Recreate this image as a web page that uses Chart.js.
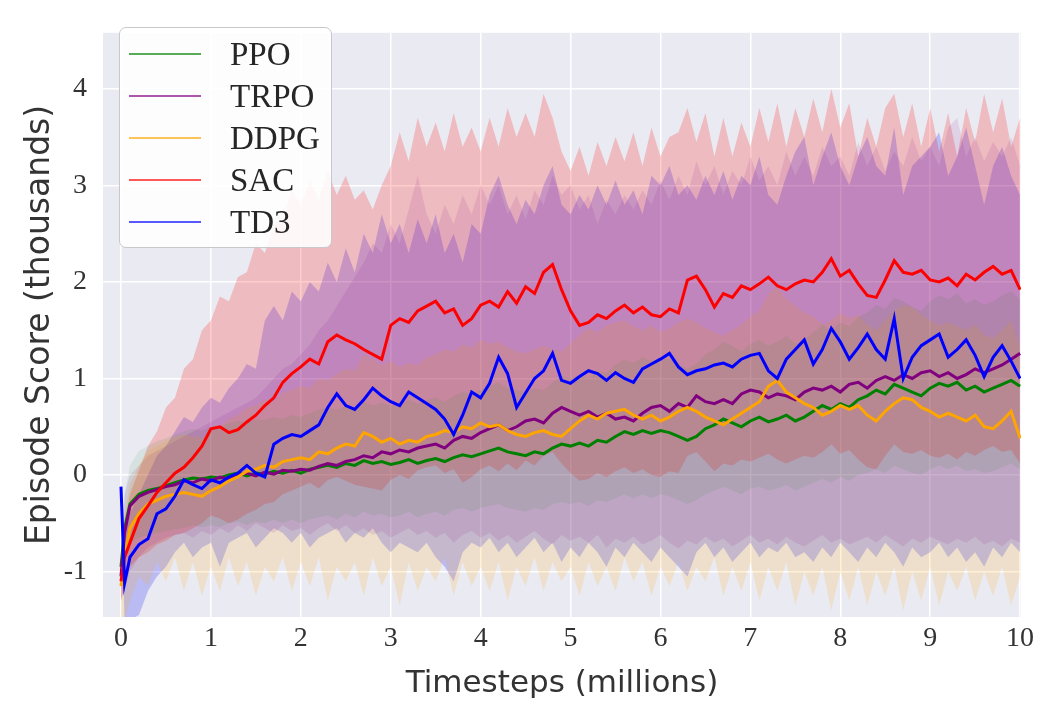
<!DOCTYPE html>
<html>
<head>
<meta charset="utf-8">
<title>Episode score vs timesteps</title>
<script src="https://cdn.jsdelivr.net/npm/chart.js@4/dist/chart.umd.min.js"></script>
<style>
  html, body { margin: 0; padding: 0; background: #ffffff; }
  #wrap { position: relative; width: 1043px; height: 704px; }
  #legend {
    position: absolute; left: 119px; top: 27px; width: 211px; height: 219px;
    background: rgba(255,255,255,0.88); border: 1.5px solid #c8c8cc; border-radius: 7px;
    font-family: "Liberation Serif", "DejaVu Serif", serif; font-size: 33px; color: #262626;
  }
  #legend .row { position: absolute; left: 0; height: 40px; width: 100%; }
  #legend .swatch { position: absolute; left: 9px; top: 19px; width: 72px; height: 2px; opacity: 0.65; }
  #legend .label { position: absolute; left: 110px; top: 0; line-height: 40px; }
</style>
</head>
<body>
<div id="wrap">
  <canvas id="chart" width="1043" height="704"></canvas>
  <div id="legend"></div>
</div>
<script>
// timesteps (millions)
const xs = [0, 0.04,
  0.1, 0.2, 0.3, 0.4, 0.5, 0.6, 0.7, 0.8, 0.9, 1.0,
  1.1, 1.2, 1.3, 1.4, 1.5, 1.6, 1.7, 1.8, 1.9, 2.0,
  2.1, 2.2, 2.3, 2.4, 2.5, 2.6, 2.7, 2.8, 2.9, 3.0,
  3.1, 3.2, 3.3, 3.4, 3.5, 3.6, 3.7, 3.8, 3.9, 4.0,
  4.1, 4.2, 4.3, 4.4, 4.5, 4.6, 4.7, 4.8, 4.9, 5.0,
  5.1, 5.2, 5.3, 5.4, 5.5, 5.6, 5.7, 5.8, 5.9, 6.0,
  6.1, 6.2, 6.3, 6.4, 6.5, 6.6, 6.7, 6.8, 6.9, 7.0,
  7.1, 7.2, 7.3, 7.4, 7.5, 7.6, 7.7, 7.8, 7.9, 8.0,
  8.1, 8.2, 8.3, 8.4, 8.5, 8.6, 8.7, 8.8, 8.9, 9.0,
  9.1, 9.2, 9.3, 9.4, 9.5, 9.6, 9.7, 9.8, 9.9, 10.0];

const algorithms = ['PPO', 'TRPO', 'DDPG', 'SAC', 'TD3'];
const colors = ['#008000', '#800080', '#ffa500', '#ff0000', '#0000ff'];
const bandAlpha = [0.08, 0.1, 0.16, 0.2, 0.2];

const xTicks = [0, 1, 2, 3, 4, 5, 6, 7, 8, 9, 10];
const yTicks = [-1, 0, 1, 2, 3, 4];

// mean episode score (thousands)
const ppoMean = [-0.95, -0.55,
  -0.30, -0.20, -0.16, -0.14, -0.11, -0.08, -0.05, -0.03, -0.04, -0.02,
  -0.03, 0.00, 0.02, -0.01, 0.02, 0.01, 0.04, 0.02, 0.05, 0.02,
  0.06, 0.08, 0.10, 0.08, 0.12, 0.10, 0.15, 0.12, 0.14, 0.11,
  0.13, 0.16, 0.12, 0.15, 0.17, 0.14, 0.18, 0.21, 0.19, 0.22,
  0.25, 0.28, 0.24, 0.22, 0.20, 0.24, 0.22, 0.28, 0.32, 0.30,
  0.33, 0.30, 0.36, 0.34, 0.40, 0.45, 0.42, 0.46, 0.43, 0.46,
  0.44, 0.40, 0.36, 0.40, 0.48, 0.52, 0.58, 0.54, 0.50, 0.56,
  0.60, 0.55, 0.58, 0.62, 0.56, 0.60, 0.66, 0.72, 0.68, 0.74,
  0.70, 0.78, 0.82, 0.88, 0.84, 0.94, 0.90, 0.86, 0.82, 0.90,
  0.95, 0.92, 0.96, 0.88, 0.92, 0.86, 0.90, 0.94, 0.98, 0.92];

const trpoMean = [-1.05, -0.60,
  -0.32, -0.22, -0.18, -0.15, -0.12, -0.10, -0.06, -0.08, -0.04, -0.06,
  -0.02, -0.04, 0.00, 0.02, -0.01, 0.03, 0.01, 0.05, 0.04, 0.06,
  0.05, 0.09, 0.12, 0.10, 0.14, 0.16, 0.20, 0.18, 0.24, 0.22,
  0.26, 0.24, 0.28, 0.30, 0.32, 0.28, 0.36, 0.40, 0.38, 0.44,
  0.48, 0.52, 0.46, 0.50, 0.56, 0.58, 0.54, 0.64, 0.70, 0.66,
  0.62, 0.66, 0.60, 0.64, 0.58, 0.60, 0.56, 0.64, 0.70, 0.72,
  0.66, 0.74, 0.70, 0.82, 0.76, 0.74, 0.78, 0.74, 0.84, 0.88,
  0.86, 0.80, 0.84, 0.82, 0.78, 0.86, 0.90, 0.88, 0.92, 0.86,
  0.94, 0.96, 0.90, 0.98, 1.02, 0.98, 1.04, 1.00, 1.06, 1.08,
  1.02, 1.06, 1.00, 1.04, 1.10, 1.06, 1.10, 1.14, 1.20, 1.26];

const ddpgMean = [-1.15, -0.85,
  -0.55, -0.40, -0.30, -0.26, -0.22, -0.20, -0.18, -0.20, -0.22, -0.16,
  -0.12, -0.06, -0.02, 0.04, 0.06, 0.10, 0.08, 0.14, 0.16, 0.18,
  0.16, 0.24, 0.22, 0.28, 0.32, 0.30, 0.44, 0.40, 0.34, 0.38,
  0.32, 0.36, 0.34, 0.40, 0.42, 0.46, 0.44, 0.50, 0.48, 0.54,
  0.50, 0.52, 0.46, 0.42, 0.40, 0.44, 0.46, 0.42, 0.40, 0.48,
  0.56, 0.62, 0.58, 0.64, 0.66, 0.68, 0.62, 0.58, 0.62, 0.56,
  0.60, 0.66, 0.70, 0.66, 0.60, 0.56, 0.52, 0.58, 0.64, 0.70,
  0.76, 0.92, 0.98, 0.86, 0.80, 0.74, 0.70, 0.62, 0.66, 0.72,
  0.68, 0.72, 0.62, 0.56, 0.66, 0.74, 0.80, 0.78, 0.70, 0.66,
  0.60, 0.64, 0.60, 0.56, 0.62, 0.50, 0.48, 0.56, 0.66, 0.38];

const sacMean = [-1.10, -0.85,
  -0.70, -0.45, -0.32, -0.18, -0.08, 0.02, 0.08, 0.18, 0.30, 0.48,
  0.50, 0.44, 0.47, 0.55, 0.62, 0.72, 0.80, 0.96, 1.05, 1.12,
  1.20, 1.15, 1.38, 1.45, 1.40, 1.36, 1.30, 1.25, 1.20, 1.55,
  1.62, 1.58, 1.70, 1.75, 1.80, 1.68, 1.72, 1.55, 1.62, 1.76,
  1.80, 1.74, 1.90, 1.78, 1.95, 1.88, 2.10, 2.18, 1.92, 1.70,
  1.55, 1.58, 1.66, 1.62, 1.70, 1.76, 1.68, 1.74, 1.66, 1.64,
  1.72, 1.68, 2.02, 2.06, 1.92, 1.74, 1.88, 1.84, 1.96, 1.92,
  1.98, 2.05, 1.96, 1.92, 1.98, 2.02, 2.00, 2.10, 2.24, 2.06,
  2.12, 1.98, 1.86, 1.84, 2.02, 2.22, 2.10, 2.08, 2.12, 2.02,
  2.00, 2.04, 1.96, 2.08, 2.02, 2.10, 2.16, 2.08, 2.12, 1.92];

const td3Mean = [-0.12, -1.12,
  -0.85, -0.72, -0.66, -0.40, -0.35, -0.22, -0.05, -0.10, -0.14, -0.05,
  -0.08, -0.02, 0.02, 0.10, 0.02, -0.02, 0.32, 0.38, 0.42, 0.40,
  0.46, 0.52, 0.70, 0.84, 0.72, 0.68, 0.78, 0.90, 0.82, 0.76,
  0.72, 0.86, 0.80, 0.74, 0.68, 0.58, 0.42, 0.62, 0.86, 0.80,
  0.95, 1.22, 1.05, 0.70, 0.85, 1.00, 1.08, 1.26, 0.98, 0.95,
  1.02, 1.08, 1.05, 0.98, 1.06, 1.00, 0.96, 1.10, 1.15, 1.20,
  1.26, 1.12, 1.04, 1.08, 1.10, 1.14, 1.16, 1.12, 1.20, 1.24,
  1.26, 1.08, 1.00, 1.20, 1.30, 1.40, 1.15, 1.30, 1.52, 1.38,
  1.20, 1.32, 1.46, 1.30, 1.20, 1.62, 1.00, 1.22, 1.34, 1.40,
  1.46, 1.22, 1.30, 1.40, 1.24, 1.02, 1.22, 1.34, 1.18, 1.00];

// spread across seeds: upper / lower edge of each shaded band
const ppoUpper = [-0.80, -0.20,
  0.10, 0.25, 0.30, 0.35, 0.38, 0.42, 0.45, 0.48, 0.46, 0.50,
  0.50, 0.54, 0.56, 0.54, 0.58, 0.57, 0.60, 0.58, 0.62, 0.60,
  0.64, 0.68, 0.70, 0.68, 0.72, 0.70, 0.76, 0.72, 0.75, 0.72,
  0.74, 0.78, 0.74, 0.78, 0.80, 0.76, 0.82, 0.86, 0.84, 0.88,
  0.92, 0.96, 0.90, 0.88, 0.86, 0.90, 0.88, 0.96, 1.02, 1.00,
  1.04, 1.00, 1.08, 1.06, 1.14, 1.20, 1.16, 1.22, 1.18, 1.22,
  1.20, 1.15, 1.10, 1.15, 1.25, 1.30, 1.38, 1.34, 1.28, 1.36,
  1.40, 1.34, 1.38, 1.44, 1.36, 1.40, 1.48, 1.56, 1.50, 1.58,
  1.54, 1.64, 1.68, 1.76, 1.72, 1.84, 1.80, 1.74, 1.70, 1.80,
  1.86, 1.82, 1.88, 1.78, 1.82, 1.76, 1.80, 1.86, 1.90, 1.82];

const ppoLower = [-1.10, -0.90,
  -0.70, -0.65, -0.62, -0.60, -0.58, -0.56, -0.55, -0.52, -0.54, -0.52,
  -0.54, -0.50, -0.48, -0.52, -0.48, -0.50, -0.46, -0.50, -0.46, -0.50,
  -0.46, -0.44, -0.42, -0.46, -0.40, -0.44, -0.38, -0.42, -0.40, -0.44,
  -0.42, -0.38, -0.44, -0.40, -0.38, -0.42, -0.36, -0.34, -0.38, -0.34,
  -0.32, -0.30, -0.34, -0.36, -0.38, -0.34, -0.36, -0.30, -0.28, -0.30,
  -0.28, -0.32, -0.26, -0.28, -0.24, -0.20, -0.24, -0.20, -0.24, -0.20,
  -0.22, -0.26, -0.30, -0.26, -0.20, -0.16, -0.12, -0.16, -0.20, -0.14,
  -0.12, -0.16, -0.14, -0.10, -0.16, -0.12, -0.08, -0.04, -0.08, -0.02,
  -0.06, 0.00, 0.02, 0.06, 0.02, 0.10, 0.06, 0.02, 0.00, 0.06,
  0.10, 0.06, 0.10, 0.04, 0.06, 0.02, 0.04, 0.08, 0.12, 0.06];

const trpoUpper = [-0.80, -0.20,
  0.00, 0.10, 0.20, 0.25, 0.30, 0.35, 0.40, 0.45, 0.50, 0.55,
  0.60, 0.65, 0.70, 0.75, 0.80, 0.90, 1.00, 1.10, 1.15, 1.25,
  1.35, 1.50, 1.60, 1.75, 1.90, 2.05, 2.20, 2.40, 2.30, 2.60,
  2.40, 2.75, 3.10, 2.70, 2.50, 2.80, 2.60, 2.90, 2.70, 3.00,
  2.80, 3.00, 2.70, 2.90, 2.65, 2.95, 2.80, 3.10, 2.90, 3.00,
  2.75, 2.90, 2.60, 2.85, 2.70, 2.90, 2.75, 2.95, 2.80, 3.05,
  2.85, 3.10, 2.90, 3.25, 3.00, 3.20, 2.90, 3.15, 3.00, 3.30,
  3.05, 3.20, 3.00, 3.35, 3.10, 3.30, 3.10, 3.40, 3.20, 3.30,
  3.10, 3.45, 3.20, 3.40, 3.15, 3.35, 3.20, 3.50, 3.25, 3.40,
  3.20, 3.60, 3.70, 3.30, 3.50, 3.25, 3.45, 3.30, 3.50, 3.20];

const trpoLower = [-1.30, -1.20,
  -1.00, -0.85, -0.75, -0.70, -0.65, -0.62, -0.60, -0.65, -0.58, -0.62,
  -0.55, -0.60, -0.52, -0.58, -0.50, -0.55, -0.60, -0.52, -0.58, -0.55,
  -0.62, -0.55, -0.50, -0.58, -0.52, -0.60, -0.55, -0.62, -0.58, -0.65,
  -0.60, -0.55, -0.62, -0.58, -0.65, -0.60, -0.70, -0.62, -0.58, -0.65,
  -0.60, -0.68, -0.62, -0.70, -0.64, -0.58, -0.66, -0.72, -0.62, -0.68,
  -0.64, -0.70, -0.62, -0.75, -0.66, -0.70, -0.64, -0.72, -0.68, -0.62,
  -0.70, -0.76, -0.68, -0.72, -0.64, -0.70, -0.66, -0.74, -0.68, -0.62,
  -0.70, -0.66, -0.72, -0.64, -0.70, -0.74, -0.68, -0.62, -0.70, -0.66,
  -0.72, -0.68, -0.64, -0.70, -0.62, -0.68, -0.74, -0.66, -0.70, -0.64,
  -0.68, -0.72, -0.66, -0.70, -0.64, -0.72, -0.68, -0.74, -0.66, -0.70];

const ddpgUpper = [-0.90, -0.40,
  -0.10, 0.10, 0.25, 0.30, 0.35, 0.40, 0.42, 0.40, 0.38, 0.45,
  0.50, 0.58, 0.62, 0.70, 0.72, 0.78, 0.76, 0.85, 0.88, 0.92,
  0.90, 1.00, 0.98, 1.05, 1.10, 1.08, 1.25, 1.20, 1.14, 1.18,
  1.12, 1.16, 1.14, 1.22, 1.25, 1.30, 1.28, 1.35, 1.32, 1.40,
  1.36, 1.38, 1.32, 1.28, 1.26, 1.30, 1.34, 1.30, 1.28, 1.36,
  1.45, 1.52, 1.48, 1.55, 1.58, 1.60, 1.54, 1.50, 1.55, 1.48,
  1.52, 1.58, 1.62, 1.58, 1.52, 1.48, 1.44, 1.50, 1.56, 1.64,
  1.70, 1.88, 1.95, 1.82, 1.75, 1.68, 1.64, 1.56, 1.60, 1.68,
  1.62, 1.66, 1.56, 1.50, 1.60, 1.70, 1.76, 1.74, 1.66, 1.60,
  1.55, 1.58, 1.54, 1.50, 1.56, 1.45, 1.42, 1.50, 1.60, 1.32];

const ddpgLower = [-1.50, -1.50,
  -1.30, -1.05, -1.15, -0.90, -1.10, -0.85, -1.20, -0.90, -1.25, -0.95,
  -1.20, -0.85, -1.15, -0.90, -1.25, -0.95, -1.10, -0.85, -1.20, -0.90,
  -1.15, -0.85, -1.30, -0.95, -1.10, -0.90, -1.25, -0.85, -1.15, -0.95,
  -1.35, -0.90, -1.20, -0.95, -1.10, -0.85, -1.25, -0.90, -1.15, -0.95,
  -1.20, -0.90, -1.30, -0.95, -1.15, -0.85, -1.20, -0.90, -1.10, -0.95,
  -1.25, -0.90, -1.15, -0.95, -1.20, -0.85, -1.10, -0.90, -1.25, -0.95,
  -1.15, -0.90, -1.20, -0.95, -1.10, -0.85, -1.25, -0.95, -1.20, -0.90,
  -1.30, -0.95, -1.20, -0.90, -1.35, -1.00, -1.25, -0.95, -1.40, -1.00,
  -1.30, -0.95, -1.35, -1.00, -1.25, -0.95, -1.40, -1.00, -1.30, -0.95,
  -1.35, -1.00, -1.20, -0.95, -1.30, -1.00, -1.25, -0.95, -1.35, -1.05];

const sacUpper = [-0.90, -0.50,
  -0.20, 0.05, 0.30, 0.45, 0.70, 0.80, 1.10, 1.20, 1.50, 1.60,
  1.85, 1.80, 2.05, 2.10, 2.40, 2.30, 2.60, 2.65, 2.95, 2.80,
  3.05, 2.85, 3.15, 2.90, 3.10, 2.85, 2.95, 2.75, 3.00, 3.20,
  3.55, 3.25, 3.70, 3.40, 3.65, 3.35, 3.75, 3.40, 3.60, 3.35,
  3.70, 3.40, 3.80, 3.50, 3.75, 3.50, 3.95, 3.70, 3.35, 3.15,
  3.40, 3.10, 3.45, 3.20, 3.50, 3.25, 3.55, 3.20, 3.60, 3.30,
  3.50, 3.55, 3.80, 3.45, 3.75, 3.30, 3.70, 3.30, 3.65, 3.40,
  3.80, 3.45, 3.85, 3.40, 3.80, 3.50, 3.90, 3.55, 4.00, 3.60,
  3.85, 3.30, 3.70, 3.40, 3.80, 3.95, 3.50, 3.85, 3.40, 3.80,
  3.35, 3.75, 3.30, 3.80, 3.45, 3.95, 3.55, 3.90, 3.40, 3.70];

const sacLower = [-1.30, -1.15,
  -0.95, -0.85, -0.80, -0.72, -0.68, -0.62, -0.60, -0.55, -0.50, -0.42,
  -0.45, -0.50, -0.46, -0.40, -0.36, -0.30, -0.28, -0.20, -0.16, -0.12,
  -0.08, -0.14, -0.05, -0.02, -0.06, -0.10, -0.12, -0.14, -0.16, -0.05,
  0.00, -0.04, 0.05, 0.08, 0.10, 0.02, 0.06, -0.08, -0.02, 0.06,
  0.10, 0.04, 0.12, 0.05, 0.15, 0.10, 0.20, 0.24, 0.12, 0.02,
  -0.06, -0.04, 0.02, -0.02, 0.04, 0.08, 0.02, 0.06, 0.00, -0.02,
  0.04, 0.02, 0.20, 0.24, 0.14, 0.04, 0.12, 0.10, 0.16, 0.14,
  0.18, 0.22, 0.16, 0.12, 0.16, 0.20, 0.18, 0.24, 0.32, 0.22,
  0.26, 0.16, 0.08, 0.06, 0.20, 0.32, 0.24, 0.22, 0.26, 0.20,
  0.18, 0.22, 0.16, 0.24, 0.20, 0.26, 0.30, 0.24, 0.26, 0.12];

const td3Upper = [-0.10, -0.60,
  -0.40, -0.20, 0.00, 0.20, 0.30, 0.45, 0.60, 0.55, 0.70, 0.80,
  0.75, 0.90, 1.00, 1.15, 1.10, 1.60, 1.75, 1.60, 1.90, 1.80,
  2.00, 1.90, 2.20, 2.00, 2.35, 2.10, 2.50, 2.30, 2.70, 2.40,
  2.60, 2.30, 2.65, 2.40, 2.70, 2.30, 2.50, 2.20, 2.60, 2.50,
  2.90, 3.10, 2.80, 2.60, 2.85, 2.70, 3.00, 3.20, 2.80, 2.70,
  2.90, 2.75, 3.00, 2.80, 3.05, 2.80, 2.95, 2.70, 3.10, 3.00,
  3.20, 2.90, 3.00, 2.85, 3.10, 2.90, 3.15, 2.85, 3.10, 3.00,
  3.30, 2.90, 2.80, 3.10, 3.35, 3.50, 3.00, 3.30, 3.55, 3.20,
  3.00, 3.30, 3.50, 3.20, 3.10, 3.60, 2.90, 3.20, 3.30, 3.40,
  3.55, 3.10, 3.30, 3.60, 3.20, 2.80, 3.20, 3.40, 3.10, 2.90];

const td3Lower = [-0.20, -1.50,
  -1.50, -1.45, -1.20, -1.05, -0.95, -0.80, -0.70, -0.85, -0.75, -0.70,
  -0.95, -0.70, -0.65, -0.60, -0.75, -0.65, -0.55, -0.60, -0.70, -0.60,
  -0.75, -0.65, -0.60, -0.55, -0.70, -0.60, -0.65, -0.55, -0.70, -0.80,
  -0.70, -0.75, -0.80, -0.70, -0.85, -0.95, -1.10, -0.80, -0.70, -0.75,
  -0.65, -0.80, -0.70, -0.85, -0.75, -0.65, -0.80, -0.70, -0.90, -0.75,
  -0.85, -0.70, -0.80, -0.95, -0.75, -0.85, -0.70, -0.80, -0.90, -0.75,
  -0.85, -0.95, -1.05, -0.80, -0.70, -0.85, -0.75, -0.90, -0.80, -0.70,
  -0.85, -0.75, -0.80, -0.70, -0.85, -0.80, -0.90, -0.75, -0.85, -0.70,
  -0.80, -0.90, -0.75, -0.85, -0.70, -0.80, -0.95, -0.75, -0.85, -0.80,
  -0.70, -0.85, -0.75, -0.90, -0.80, -0.95, -0.75, -0.85, -0.70, -0.80];

const means = [ppoMean, trpoMean, ddpgMean, sacMean, td3Mean];
const uppers = [ppoUpper, trpoUpper, ddpgUpper, sacUpper, td3Upper];
const lowers = [ppoLower, trpoLower, ddpgLower, sacLower, td3Lower];

function pts(ys) {
  return xs.map((x, i) => ({ x: x, y: ys[i] }));
}

function rgba(hex, a) {
  const n = parseInt(hex.slice(1), 16);
  return `rgba(${n >> 16}, ${(n >> 8) & 255}, ${n & 255}, ${a})`;
}

const datasets = [];
// mean curves first so they sit on top (lower order = drawn later)
algorithms.forEach((name, i) => {
  datasets.push({
    label: name,
    data: pts(means[i]),
    borderColor: colors[i],
    borderWidth: 3,
    pointRadius: 0,
    fill: false,
    tension: 0,
    order: 4 - i
  });
});
// shaded spread: upper edge fills down to the lower edge that follows it
algorithms.forEach((name, i) => {
  datasets.push({
    label: name + ' upper',
    data: pts(uppers[i]),
    borderWidth: 0,
    pointRadius: 0,
    backgroundColor: rgba(colors[i], bandAlpha[i]),
    fill: '+1',
    order: 10 + i
  });
  datasets.push({
    label: name + ' lower',
    data: pts(lowers[i]),
    borderWidth: 0,
    pointRadius: 0,
    fill: false,
    order: 10 + i
  });
});

// seaborn-like grey plot face
const plotFace = {
  id: 'plotFace',
  beforeDraw(chart) {
    const { ctx, chartArea: a } = chart;
    ctx.save();
    ctx.fillStyle = '#eaeaf2';
    ctx.fillRect(a.left, a.top, a.right - a.left, a.bottom - a.top);
    ctx.restore();
  }
};

const tickFont = { family: '"Liberation Serif", "DejaVu Serif", serif', size: 28 };
const titleFamily = '"DejaVu Sans", Verdana, sans-serif';

new Chart(document.getElementById('chart'), {
  type: 'line',
  data: { datasets: datasets },
  options: {
    responsive: false,
    animation: false,
    layout: { padding: { left: 0, right: 22, top: 10, bottom: 0 } },
    plugins: {
      legend: { display: false },
      tooltip: { enabled: false }
    },
    scales: {
      x: {
        type: 'linear',
        min: -0.2,
        max: 10.01,
        afterBuildTicks: s => { s.ticks = xTicks.map(v => ({ value: v })); },
        afterFit: s => { s.height = 87; },
        grid: { color: '#ffffff', lineWidth: 1.5, drawTicks: false },
        border: { display: false },
        ticks: { font: tickFont, color: '#333333', padding: 5, maxRotation: 0 },
        title: { display: true, text: 'Timesteps (millions)', font: { family: titleFamily, size: 31 }, color: '#333333', padding: { top: 0, bottom: 1 } }
      },
      y: {
        type: 'linear',
        min: -1.47,
        max: 4.58,
        afterBuildTicks: s => { s.ticks = yTicks.map(v => ({ value: v })); },
        afterFit: s => { s.width = 103; },
        grid: { color: '#ffffff', lineWidth: 1.5, drawTicks: false },
        border: { display: false },
        ticks: { font: tickFont, color: '#333333', padding: 16 },
        title: { display: true, text: 'Episode Score (thousands)', font: { family: titleFamily, size: 33 }, color: '#333333', padding: { top: 21, bottom: 0 } }
      }
    }
  },
  plugins: [plotFace]
});

// legend box in the upper-left corner of the plot
const legend = document.getElementById('legend');
algorithms.forEach((name, i) => {
  const row = document.createElement('div');
  row.className = 'row';
  row.style.top = (6 + i * 42) + 'px';
  const sw = document.createElement('div');
  sw.className = 'swatch';
  sw.style.backgroundColor = colors[i];
  const lb = document.createElement('div');
  lb.className = 'label';
  lb.textContent = name;
  row.appendChild(sw);
  row.appendChild(lb);
  legend.appendChild(row);
});
</script>
</body>
</html>
